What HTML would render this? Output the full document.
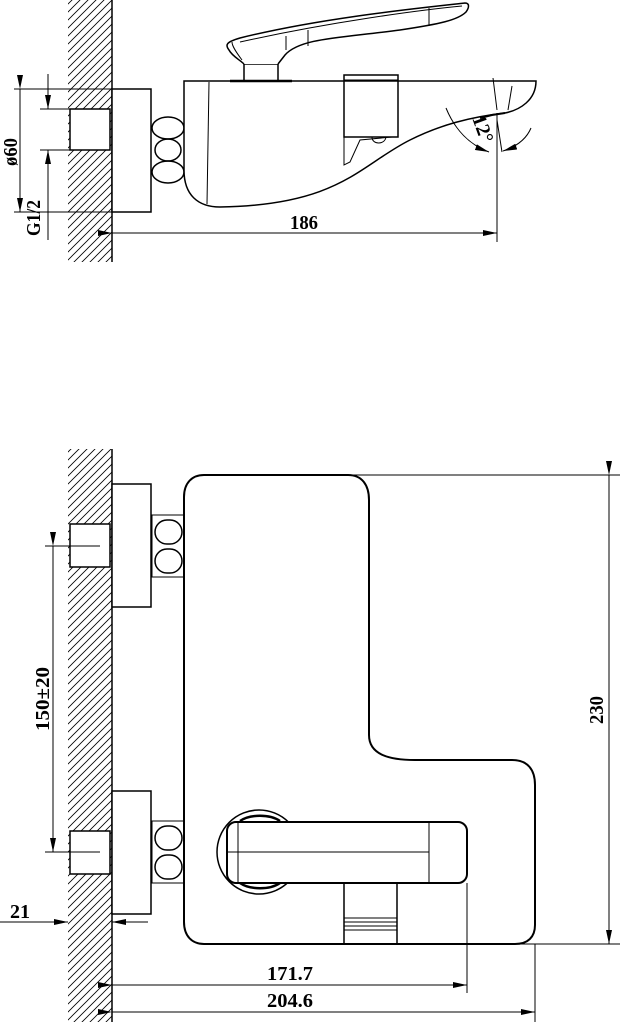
<!DOCTYPE html>
<html><head><meta charset="utf-8"><style>html,body{margin:0;padding:0;background:#fff}svg{display:block}text{font-family:"Liberation Serif",serif;font-size:20px;font-weight:bold;fill:#000}</style></head><body>
<svg width="621" height="1022" viewBox="0 0 621 1022" xmlns="http://www.w3.org/2000/svg">
<defs>
<pattern id="h" patternUnits="userSpaceOnUse" width="8" height="8"><path d="M-2,10 L10,-2 M-2,2 L2,-2 M6,10 L10,6" stroke="#000" stroke-width="0.8"/></pattern>
<marker id="a" markerWidth="14" markerHeight="6" refX="14" refY="3" orient="auto" markerUnits="userSpaceOnUse"><path d="M0,0 L14,3 L0,6 Z" fill="#000"/></marker>
</defs>
<g fill="none" stroke="#000" stroke-width="1">
<!-- TOP VIEW -->
<rect x="68" y="0" width="44" height="262" fill="url(#h)" stroke="none"/>
<line x1="112" y1="0" x2="112" y2="262" stroke-width="1.5"/>
<rect x="112" y="89" width="39" height="123" fill="#fff" stroke-width="1.5"/>
<rect x="70" y="109" width="40" height="41" fill="#fff" stroke-width="1.5"/>
<line x1="14" y1="89" x2="112" y2="89"/><line x1="14" y1="212" x2="112" y2="212"/>
<line x1="20" y1="89" x2="20" y2="212" marker-start="url(#a)" marker-end="url(#a)"/>
<line x1="40" y1="109" x2="70" y2="109"/><line x1="40" y1="150" x2="70" y2="150"/>
<line x1="48" y1="74" x2="48" y2="109" marker-end="url(#a)"/>
<line x1="48" y1="240" x2="48" y2="150" marker-end="url(#a)"/>
<ellipse cx="168" cy="128" rx="16" ry="11" stroke-width="1.5"/>
<ellipse cx="168" cy="150" rx="13" ry="11" stroke-width="1.5"/>
<ellipse cx="168" cy="172" rx="16" ry="11" stroke-width="1.5"/>
<path d="M184,81 L536,81 C536,100 520,110 505,113 C470,117 440,125 410,140 C360,165 340,205 220,207 C198,207 184,195 184,170 Z" stroke-width="1.5" fill="#fff"/>
<line x1="209" y1="82" x2="207" y2="204"/>
<rect x="344" y="75" width="54" height="62" stroke-width="1.5"/>
<line x1="344" y1="80" x2="398" y2="80"/>
<path d="M344,137 L344,165 L350,162 L360,140 L392,137"/>
<path d="M372,137 C372,145 385,145 386,137"/>
<rect x="244" y="64" width="34" height="17" stroke-width="1.5"/>
<line x1="230" y1="81" x2="292" y2="81" stroke-width="2.5"/>
<path d="M244,64 C240,60 232,56 229,50 C225,45 226,42 240,38 C320,18 420,8 465,3 C470,3 469,8 466,12 C458,20 440,24 400,30 C340,38 300,38 285,55 L278,64" stroke-width="1.5" fill="#fff"/>
<path d="M240,42 C330,22 420,10 462,6"/>
<line x1="286" y1="36" x2="286" y2="50"/><line x1="308" y1="30" x2="308" y2="46"/><line x1="429" y1="8" x2="429" y2="26"/>
<path d="M242,60 C236,52 232,46 232,42"/>
<path d="M505,113 L492,115 L480,118" stroke-width="2"/>
<line x1="493" y1="78" x2="497" y2="110"/>
<line x1="512" y1="86" x2="508" y2="110"/>
<line x1="497" y1="113" x2="497" y2="242"/>
<path d="M446,108 C455,130 470,145 489,152" marker-end="url(#a)"/>
<path d="M531,128 C526,140 515,147 503,151" marker-end="url(#a)"/>
<line x1="497" y1="120" x2="502" y2="152"/>
<line x1="112" y1="233" x2="497" y2="233" marker-start="url(#a)" marker-end="url(#a)"/>
<!-- BOTTOM VIEW -->
<rect x="68" y="449" width="44" height="573" fill="url(#h)" stroke="none"/>
<line x1="112" y1="449" x2="112" y2="1022" stroke-width="1.5"/>
<rect x="112" y="484" width="39" height="123" fill="#fff" stroke-width="1.5"/>
<rect x="112" y="791" width="39" height="123" fill="#fff" stroke-width="1.5"/>
<rect x="70" y="524" width="40" height="43" fill="#fff" stroke-width="1.5"/>
<rect x="70" y="831" width="40" height="43" fill="#fff" stroke-width="1.5"/>
<rect x="152" y="515" width="32" height="62" stroke-width="1"/>
<rect x="155" y="520" width="27" height="24" rx="12" stroke-width="1.5"/>
<rect x="155" y="549" width="27" height="24" rx="12" stroke-width="1.5"/>
<rect x="152" y="821" width="32" height="62" stroke-width="1"/>
<rect x="155" y="826" width="27" height="24" rx="12" stroke-width="1.5"/>
<rect x="155" y="855" width="27" height="24" rx="12" stroke-width="1.5"/>
<path d="M204,475 L348,475 C362,475 369,485 369,500 L369,735 C369,755 390,760 415,760 L512,760 C528,760 535,770 535,785 L535,925 C535,937 528,944 515,944 L204,944 C192,944 184,936 184,922 L184,497 C184,483 192,475 204,475 Z" stroke-width="2"/>
<circle cx="259" cy="852" r="42" stroke-width="1.5"/>
<path d="M240,821 C250,814 270,814 280,821 M240,883 C250,890 270,890 280,883" stroke-width="2.5"/>
<rect x="227" y="822" width="240" height="61" rx="9" fill="#fff" stroke-width="2"/>
<line x1="238" y1="822" x2="238" y2="883"/>
<line x1="429" y1="822" x2="429" y2="883"/>
<line x1="227" y1="852" x2="429" y2="852"/>
<rect x="344" y="883" width="53" height="61" stroke-width="1.5"/>
<line x1="344" y1="918" x2="397" y2="918"/><line x1="344" y1="922" x2="397" y2="922"/><line x1="344" y1="926" x2="397" y2="926"/><line x1="344" y1="930" x2="397" y2="930"/>
<line x1="350" y1="475" x2="620" y2="475"/><line x1="520" y1="944" x2="620" y2="944"/>
<line x1="609" y1="475" x2="609" y2="944" marker-start="url(#a)" marker-end="url(#a)"/>
<line x1="45" y1="546" x2="100" y2="546"/><line x1="45" y1="852" x2="100" y2="852"/>
<line x1="53" y1="546" x2="53" y2="852" marker-start="url(#a)" marker-end="url(#a)"/>
<line x1="0" y1="922" x2="68" y2="922" marker-end="url(#a)"/>
<line x1="148" y1="922" x2="112" y2="922" marker-end="url(#a)"/>
<line x1="467" y1="883" x2="467" y2="993"/>
<line x1="112" y1="985" x2="467" y2="985" marker-start="url(#a)" marker-end="url(#a)"/>
<line x1="535" y1="944" x2="535" y2="1022"/>
<line x1="112" y1="1012" x2="535" y2="1012" marker-start="url(#a)" marker-end="url(#a)"/>
</g>
<text x="290" y="229" textLength="28" lengthAdjust="spacingAndGlyphs">186</text>
<text transform="translate(17,166) rotate(-90)" textLength="28" lengthAdjust="spacingAndGlyphs">ø60</text>
<text transform="translate(40,236) rotate(-90)" textLength="36" lengthAdjust="spacingAndGlyphs">G1/2</text>
<text transform="translate(472,118) rotate(70)" font-size="17">12°</text>
<text transform="translate(603,724) rotate(-90)" textLength="28" lengthAdjust="spacingAndGlyphs">230</text>
<text transform="translate(49,731) rotate(-90)" textLength="64" lengthAdjust="spacingAndGlyphs">150±20</text>
<text x="10" y="918" textLength="20" lengthAdjust="spacingAndGlyphs">21</text>
<text x="267" y="980" textLength="46" lengthAdjust="spacingAndGlyphs">171.7</text>
<text x="267" y="1007" textLength="46" lengthAdjust="spacingAndGlyphs">204.6</text>
</svg>
</body></html>
